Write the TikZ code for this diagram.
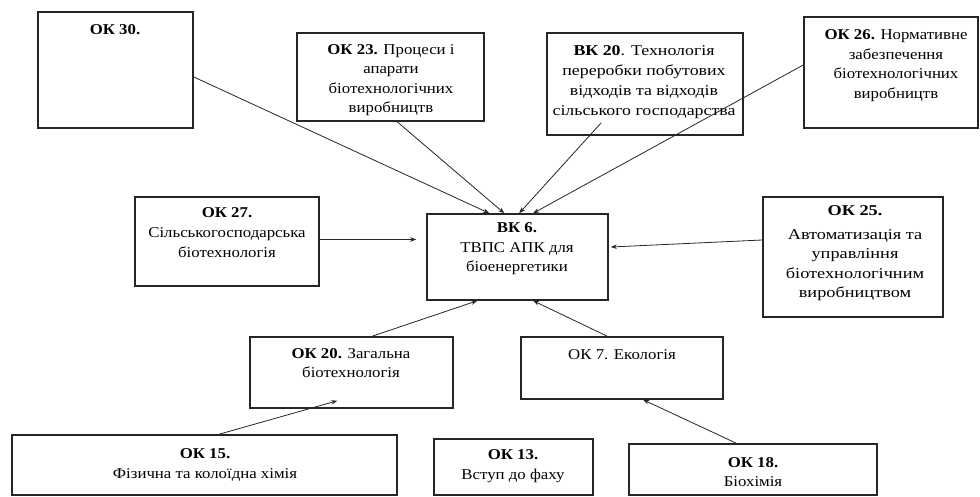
\documentclass[tikz,border=0pt]{standalone}
\usepackage{fontspec}
\setmainfont{Liberation Serif}
\newfontfamily\fs[FakeStretch=1.12]{Liberation Serif}
\newfontfamily\fw[FakeStretch=1.22]{Liberation Serif}
\newfontfamily\fv[FakeStretch=1.19]{Liberation Serif}
\usetikzlibrary{arrows.meta,calc}
\begin{document}
\begin{tikzpicture}[x=1pt,y=-1pt,
 box/.style={draw=black!85, line width=1.6pt, rectangle, inner sep=0pt},
 txt/.style={align=center, font=\fs\fontsize{15}{19.5}\selectfont, inner sep=0pt},
 wtxt/.style={align=center, font=\fw\fontsize{15}{19.5}\selectfont, inner sep=0pt},
 conn/.style={draw=black!85, line width=0.8pt, -{Stealth[length=6pt,width=4.5pt]}},
]
\fill[white] (0,0) rectangle (980,497);
\useasboundingbox (0,0) rectangle (980,497);

% boxes
\node[box, minimum width=155pt, minimum height=116pt] (ok30) at (115.5,70) {};
\node[box, minimum width=187pt, minimum height=88pt]  (ok23) at (390.5,77) {};
\node[box, minimum width=196pt, minimum height=102pt] (vk20) at (645,84) {};
\node[box, minimum width=174pt, minimum height=111pt] (ok26) at (891,72.5) {};
\node[box, minimum width=184pt, minimum height=89pt]  (ok27) at (227,241.5) {};
\node[box, minimum width=181pt, minimum height=86pt]  (vk6)  at (517.5,257) {};
\node[box, minimum width=180pt, minimum height=120pt] (ok25) at (853,257) {};
\node[box, minimum width=203pt, minimum height=71pt]  (ok20) at (351.5,372.5) {};
\node[box, minimum width=202pt, minimum height=62pt]  (ok7)  at (622,368) {};
\node[box, minimum width=385pt, minimum height=60pt]  (ok15) at (204.5,465) {};
\node[box, minimum width=159pt, minimum height=56pt]  (ok13) at (513.5,467) {};
\node[box, minimum width=248pt, minimum height=51pt]  (ok18) at (753,469.5) {};

% texts
\node[txt] (t30) at (115,30) {\textbf{ОК 30.}};
\node[txt] (t23) at (391,80) {\textbf{ОК 23.} Процеси і\\апарати\\біотехнологічних\\виробництв};
\node[txt, font=\fv\fontsize{15}{20}\selectfont] (t20v) at (644,82) {\textbf{ВК 20}. Технологія\\переробки побутових\\відходів та відходів\\сільського господарства};
\node[txt, font=\fs\fontsize{15}{19.7}\selectfont] (t26) at (896,65.5) {\textbf{ОК 26.} Нормативне\\забезпечення\\біотехнологічних\\виробництв};
\node[txt, font=\fs\fontsize{15}{20}\selectfont] (t27) at (227,233) {\textbf{ОК 27.}\\Сільськогосподарська\\біотехнологія};
\node[txt] (t6) at (517,249) {\textbf{ВК 6.}\\ТВПС АПК для\\біоенергетики};
\node[wtxt] (t25) at (855,253.5) {\textbf{ОК 25.}\\[4pt]Автоматизація та\\управління\\біотехнологічним\\виробництвом};
\node[txt] (t20) at (351,363) {\textbf{ОК 20.} Загальна\\біотехнологія};
\node[txt] (t7) at (622,355) {ОК 7. Екологія};
\node[txt] (t15) at (205,465) {\textbf{ОК 15.}\\Фізична та колоїдна хімія};
\node[txt] (t13) at (513,466) {\textbf{ОК 13.}\\Вступ до фаху};
\node[txt] (t18) at (753,472) {\textbf{ОК 18.}\\Біохімія};

% connectors
\draw[conn] ($(ok30.east)+(0,7)$) -- ($(vk6.north west)+(63,0)$);
\draw[conn] ($(ok23.south west)+(101,0)$) -- ($(vk6.north west)+(78,0)$);
\draw[conn] ($(vk20.south west)+(55,-13)$) -- ($(vk6.north west)+(93,0)$);
\draw[conn] ($(ok26.west)+(0,-7.5)$) -- ($(vk6.north west)+(107,0)$);
\draw[conn, shorten >=10pt] ($(ok27.east)+(0,-2)$) -- ($(vk6.west)+(0,-17.5)$);
\draw[conn] ($(ok25.west)+(0,-17)$) -- ($(vk6.east)+(2,-10)$);
\draw[conn] ($(ok20.north west)+(123,0)$) -- ($(vk6.south west)+(51,0)$);
\draw[conn] ($(ok7.north west)+(87,0)$) -- ($(vk6.south west)+(107,0)$);
\draw[conn] ($(ok15.north west)+(208,0)$) -- ($(ok20.south west)+(88,-8)$);
\draw[conn] ($(ok18.north west)+(108,0)$) -- ($(ok7.south west)+(123,0)$);
\end{tikzpicture}
\end{document}
